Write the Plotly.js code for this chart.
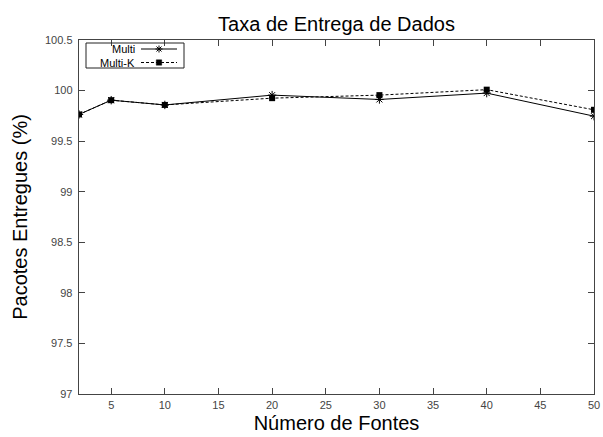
<!DOCTYPE html>
<html>
<head>
<meta charset="utf-8">
<script src="https://cdn.plot.ly/plotly-3.0.1.min.js"></script>
<style>html,body{margin:0;padding:0;background:#fff;}#chart{width:603px;height:437px;}</style>
</head>
<body>
<div id="chart"></div>
<script>
const fontes = [2, 5, 10, 20, 30, 40, 50];
const multi = [99.764, 99.905, 99.858, 99.955, 99.912, 99.975, 99.747];
const multiK = [99.764, 99.905, 99.858, 99.925, 99.955, 100.009, 99.81];
const seriesNames = ['Multi', 'Multi-K'];
const xTicks = [5, 10, 15, 20, 25, 30, 35, 40, 45, 50];
const yTicks = [97, 97.5, 98, 98.5, 99, 99.5, 100, 100.5];

const FONT = 'Liberation Sans, Arial, sans-serif';
const plotL = 79, plotR = 594, plotT = 40, plotB = 394;
const pw = plotR - plotL, ph = plotB - plotT;
const px = v => (v - plotL) / pw;
const py = v => (plotB - v) / ph;

const traces = [
  {
    x: fontes, y: multi, type: 'scatter', mode: 'lines+markers', name: seriesNames[0],
    line: {color: '#000', width: 1},
    marker: {symbol: 'asterisk-open', size: 7, color: '#000', line: {color: '#000', width: 1}}
  },
  {
    x: fontes, y: multiK, type: 'scatter', mode: 'lines+markers', name: seriesNames[1],
    line: {color: '#000', width: 1, dash: '3px,2px'},
    marker: {symbol: 'square', size: 6, color: '#000'}
  }
];

const axisCommon = {
  showgrid: false, zeroline: false, showline: true, linecolor: '#444', linewidth: 1.3,
  ticks: 'inside', ticklen: 6, tickcolor: '#444', tickwidth: 1, mirror: 'ticks',
  tickfont: {family: FONT, size: 11, color: '#444'}
};

// legend drawn as decoration (symbol to the right of the text, like the original)
const legRow1 = 49, legRow2 = 62.5, legX0 = 141, legX1 = 177, legMid = 159;
const legendShapes = [
  {type: 'rect', xref: 'paper', yref: 'paper', x0: px(86), x1: px(184), y0: py(68), y1: py(43),
   line: {color: '#222', width: 1}, fillcolor: 'rgba(0,0,0,0)'},
  {type: 'line', xref: 'paper', yref: 'paper', x0: px(legX0), x1: px(legX1), y0: py(legRow1), y1: py(legRow1),
   line: {color: '#000', width: 1}},
  {type: 'line', xref: 'paper', yref: 'paper', x0: px(legX0), x1: px(legX1), y0: py(legRow2), y1: py(legRow2),
   line: {color: '#000', width: 1, dash: '3px,2px'}},
  {type: 'path', xref: 'paper', yref: 'paper', xsizemode: 'pixel', ysizemode: 'pixel',
   xanchor: px(legMid), yanchor: py(legRow1),
   path: 'M-3.5,0L3.5,0M0,-3.5L0,3.5M-2.5,-2.5L2.5,2.5M-2.5,2.5L2.5,-2.5',
   line: {color: '#000', width: 1}},
  {type: 'rect', xref: 'paper', yref: 'paper', xsizemode: 'pixel', ysizemode: 'pixel',
   xanchor: px(legMid), yanchor: py(legRow2), x0: -2.7, x1: 2.7, y0: -2.7, y1: 2.7,
   line: {color: '#000', width: 0.5}, fillcolor: '#000'}
];

const layout = {
  width: 603, height: 437,
  margin: {l: plotL, r: 603 - plotR, t: plotT, b: 437 - plotB, pad: 0},
  paper_bgcolor: '#fff', plot_bgcolor: '#fff',
  font: {family: FONT, color: '#000'},
  title: {text: 'Taxa de Entrega de Dados', font: {family: FONT, size: 20, color: '#000'},
          x: 0.5, xref: 'paper', xanchor: 'center', y: 1 - 24/437, yref: 'container', yanchor: 'middle'},
  xaxis: Object.assign({}, axisCommon, {
    range: [2, 50], tickmode: 'array', tickvals: xTicks, ticktext: xTicks.map(String),
    ticklabelstandoff: 0,
    title: {text: 'Número de Fontes', font: {family: FONT, size: 20, color: '#000'}, standoff: 6}
  }),
  yaxis: Object.assign({}, axisCommon, {
    range: [97, 100.5], tickmode: 'array', tickvals: yTicks, ticktext: yTicks.map(String),
    ticklabelstandoff: 3,
    title: {text: 'Pacotes Entregues (%)', font: {family: FONT, size: 20, color: '#000'}, standoff: 12}
  }),
  showlegend: false,
  shapes: legendShapes,
  annotations: [
    {text: seriesNames[0], xref: 'paper', yref: 'paper', x: px(137), y: py(legRow1), xanchor: 'right', yanchor: 'middle',
     showarrow: false, font: {family: FONT, size: 11, color: '#000'}},
    {text: seriesNames[1], xref: 'paper', yref: 'paper', x: px(137), y: py(legRow2), xanchor: 'right', yanchor: 'middle',
     showarrow: false, font: {family: FONT, size: 11, color: '#000'}}
  ]
};

Plotly.newPlot('chart', traces, layout, {displayModeBar: false, staticPlot: true});
</script>
</body>
</html>
